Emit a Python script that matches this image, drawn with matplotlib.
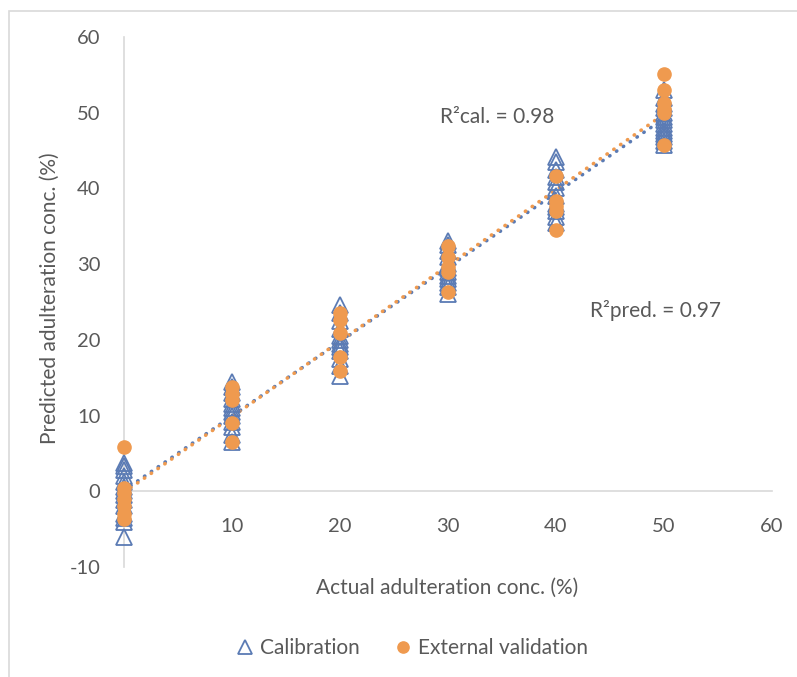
import numpy as np
import matplotlib.pyplot as plt
from matplotlib.patches import Rectangle

plt.rcParams['font.family'] = ['Lato', 'DejaVu Sans']
plt.rcParams['axes.unicode_minus'] = False

# calibration set (actual, predicted)
cal_x = [0]*14 + [10]*12 + [20]*12 + [30]*12 + [40]*12 + [50]*14
cal_y = [-6.1, -4.0, -3.5, -3.0, -2.0, -1.2, -0.5, 0.0, 0.6, 1.2, 2.0, 2.8, 3.4, 3.8,
         6.5, 7.5, 8.5, 9.2, 10.0, 10.5, 11.0, 11.5, 12.2, 13.0, 13.8, 14.5,
         15.2, 16.5, 17.5, 18.5, 19.0, 19.5, 20.0, 20.5, 21.5, 22.5, 23.5, 24.6,
         26.0, 27.0, 27.5, 28.0, 28.5, 29.0, 29.5, 30.0, 31.0, 31.8, 32.5, 33.0,
         35.5, 36.2, 37.0, 37.5, 38.0, 39.0, 40.0, 40.8, 41.5, 42.5, 43.5, 44.2,
         45.8, 46.3, 46.8, 47.2, 47.6, 48.0, 48.5, 49.0, 49.5, 50.0, 50.6, 51.2, 52.0, 53.0]

# external validation set
val_x = [0]*7 + [10]*5 + [20]*5 + [30]*5 + [40]*5 + [50]*6
val_y = [5.8, 0.5, -0.2, -1.0, -2.0, -3.0, -3.7,
         13.8, 12.8, 12.0, 9.0, 6.5,
         23.6, 22.6, 20.9, 17.7, 15.9,
         32.4, 30.9, 29.6, 29.0, 26.3,
         41.7, 38.4, 37.7, 37.0, 34.5,
         55.1, 53.0, 51.3, 50.5, 50.0, 45.7]

blue = '#5B7BB4'
orange = '#EF9A4F'
gray = '#595959'
fs = 15

fig = plt.figure(figsize=(7.97, 6.77), dpi=100)
fig.patches.append(Rectangle((9/797, -0.01), 1.0, 1 - 11/677 + 0.01, transform=fig.transFigure,
                             fill=False, edgecolor='#D9D9D9', linewidth=1.2))
ax = fig.add_axes([124/797, 1 - 567/677, 648/797, 530/677])

ax.plot(cal_x, cal_y, linestyle='none', marker='^', markersize=12, markerfacecolor='none',
        markeredgecolor=blue, markeredgewidth=1.3, label='Calibration', zorder=3, clip_on=False)
ax.plot(val_x, val_y, linestyle='none', marker='o', markersize=9.5, color=orange,
        label='External validation', zorder=4, clip_on=False)

# linear trend lines
xs = np.array([0, 50])
for xv, yv, c in [(cal_x, cal_y, blue), (val_x, val_y, orange)]:
    m, b = np.polyfit(xv, yv, 1)
    ax.plot(xs, m*xs + b, linestyle=(0, (0.1, 2.2)), dash_capstyle='round', linewidth=2.6,
            color=c, zorder=2)

ax.set_xlim(0, 60)
ax.set_ylim(-10, 60)
for s in ['top', 'right']:
    ax.spines[s].set_visible(False)
ax.spines['bottom'].set_position(('data', 0))
ax.spines['bottom'].set_color('#D9D9D9')
ax.spines['left'].set_color('#D9D9D9')
ax.spines['bottom'].set_linewidth(1.2)
ax.spines['left'].set_linewidth(1.2)
ax.set_xticks([10, 20, 30, 40, 50, 60])
ax.set_yticks(range(-10, 61, 10))
ax.tick_params(length=0, labelsize=14.5, labelcolor=gray)
ax.tick_params(axis='x', pad=19)
ax.tick_params(axis='y', pad=17)

ax.text(447/797, 1 - 588/677, 'Actual adulteration conc. (%)', transform=fig.transFigure,
        ha='center', va='center', fontsize=fs, color=gray)
ax.text(50/797, 1 - 298/677, 'Predicted adulteration conc. (%)', transform=fig.transFigure,
        ha='center', va='center', rotation=90, fontsize=fs, color=gray)

ax.text(440/797, 1 - 117/677, 'R²cal. = 0.98', transform=fig.transFigure,
        ha='left', va='center', fontsize=fs, color=gray)
ax.text(590/797, 1 - 311/677, 'R²pred. = 0.97', transform=fig.transFigure,
        ha='left', va='center', fontsize=fs, color=gray)

fig.legend(loc='center', bbox_to_anchor=(410/797, 1 - 648/677), ncol=2, frameon=False,
           fontsize=fs, labelcolor=gray, handletextpad=0.1, columnspacing=1.5,
           markerscale=0.85, handlelength=1.2)

fig.savefig('out.png', dpi=100)
